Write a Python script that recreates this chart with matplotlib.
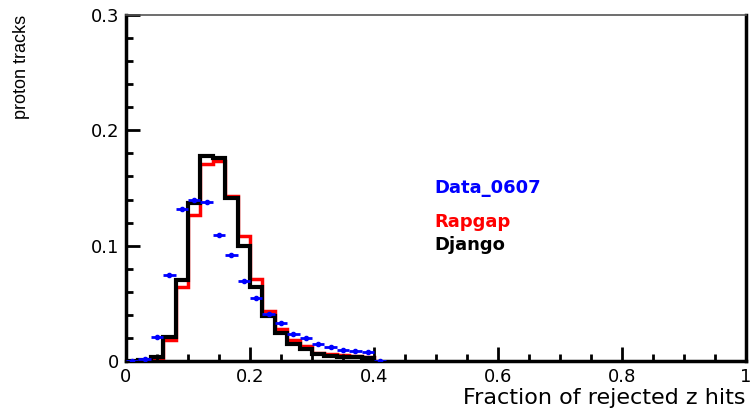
import numpy as np
import matplotlib
matplotlib.use("Agg")
import matplotlib.pyplot as plt
from matplotlib.ticker import MultipleLocator

# bin edges of the histograms (width 0.02)
edges = np.round(np.arange(0.0, 0.4001, 0.02), 3)

# Django (black)
django = [0.0, 0.001, 0.0037, 0.0205, 0.070, 0.137, 0.178, 0.176, 0.141, 0.100,
          0.064, 0.039, 0.024, 0.0147, 0.010, 0.006, 0.0046, 0.0037, 0.0032, 0.0026]
# Rapgap (red)
rapgap = [0.0, 0.0008, 0.003, 0.018, 0.064, 0.127, 0.171, 0.173, 0.143, 0.108,
          0.071, 0.043, 0.028, 0.018, 0.013, 0.0072, 0.0058, 0.0049, 0.0040, 0.0033]
# Data_0607 (blue points, bin centres)
data_x = np.round(np.arange(0.01, 0.4101, 0.02), 3)
data_y = [0.0003, 0.0015, 0.0205, 0.0746, 0.1315, 0.140, 0.1376, 0.109, 0.092, 0.069,
          0.055, 0.041, 0.0327, 0.023, 0.0197, 0.0147, 0.0124, 0.0095, 0.0087, 0.0075, 0.0003]

xticks = [0, 0.2, 0.4, 0.6, 0.8, 1]
xticklabels = ["0", "0.2", "0.4", "0.6", "0.8", "1"]
yticks = [0, 0.1, 0.2, 0.3]
yticklabels = ["0", "0.1", "0.2", "0.3"]

fig = plt.figure(figsize=(7.53, 4.09), dpi=100)
ax = fig.add_axes([0.1673, 0.1174, 0.8234, 0.8459])

ax.stairs(rapgap, edges, color="red", lw=2.5, baseline=0)
ax.stairs(django, edges, color="black", lw=3, baseline=0)
ax.errorbar(data_x, data_y, xerr=0.01, fmt="o", color="blue", ms=3,
            lw=2, capsize=0, zorder=5)

ax.set_xlim(0, 1)
ax.set_ylim(0, 0.3)
ax.set_xticks(xticks)
ax.set_xticklabels(xticklabels)
ax.set_yticks(yticks)
ax.set_yticklabels(yticklabels)
ax.xaxis.set_minor_locator(MultipleLocator(0.05))
ax.yaxis.set_minor_locator(MultipleLocator(0.02))
ax.tick_params(which="both", direction="in", top=False, right=False, width=2,
               labelsize=13, pad=5)
ax.tick_params(which="major", length=10)
ax.tick_params(which="minor", length=5)

for s in ["left", "bottom", "right"]:
    ax.spines[s].set_linewidth(2.5)
ax.spines["top"].set_linewidth(1.2)
ax.spines["top"].set_color("#555555")

ax.text(1.0, -0.107, "Fraction of rejected z hits", transform=ax.transAxes,
        ha="right", va="center", fontsize=16, family="DejaVu Sans")
ax.text(-0.168, 1.0, "proton tracks", transform=ax.transAxes, rotation=90,
        ha="center", va="top", fontsize=13,
        family=["Liberation Sans Narrow", "Liberation Sans", "DejaVu Sans"])

ax.text(0.498, 0.150, "Data_0607", color="blue", fontsize=13, fontweight="bold",
        va="center", family="DejaVu Sans")
ax.text(0.498, 0.1205, "Rapgap", color="red", fontsize=13, fontweight="bold",
        va="center", family="DejaVu Sans")
ax.text(0.498, 0.1006, "Django", color="black", fontsize=13, fontweight="bold",
        va="center", family="DejaVu Sans")

fig.savefig("out.png", dpi=100)
